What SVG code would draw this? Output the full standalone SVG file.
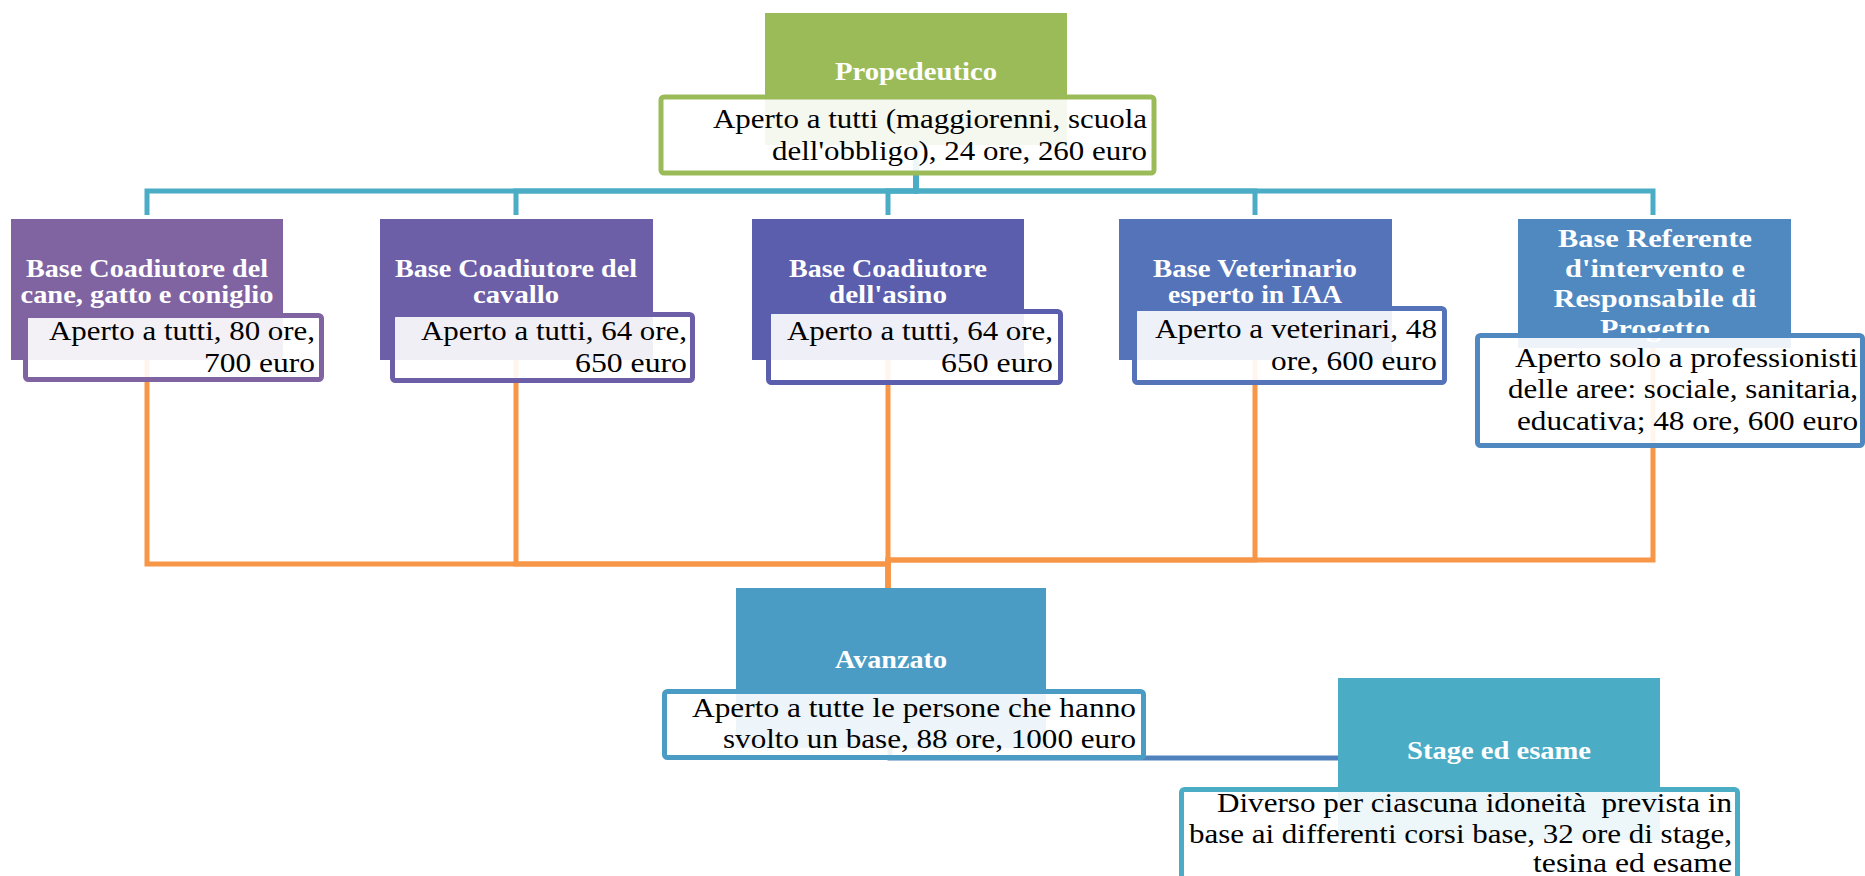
<svg xmlns="http://www.w3.org/2000/svg" width="1865" height="876" viewBox="0 0 1865 876">
<style>
.hd{font-family:"Liberation Serif","DejaVu Serif",serif;font-weight:bold;font-size:25px;fill:#ffffff;text-anchor:middle}
.bd{font-family:"Liberation Serif","DejaVu Serif",serif;font-size:27px;fill:#000000;text-anchor:end}
.box{fill:#ffffff;fill-opacity:0.9;stroke-width:5}
.cb{fill:none;stroke:#4BACC6;stroke-width:5}
.co{fill:none;stroke:#F79646;stroke-width:5}
.cs{fill:none;stroke:#4F81BD;stroke-width:5}
</style>
<rect width="1865" height="876" fill="#ffffff"/>
<g id="connectors">
<path class="cb" d="M916 145 V191 H147 V215"/>
<path class="cb" d="M916 145 V191 H516 V215"/>
<path class="cb" d="M916 145 V191 H888 V215"/>
<path class="cb" d="M916 145 V191 H1255 V215"/>
<path class="cb" d="M916 145 V191 H1653 V215"/>
<path class="co" d="M147 360 V564 H888 V588"/>
<path class="co" d="M516 360 V564 H888 V588"/>
<path class="co" d="M888 360 V588"/>
<path class="co" d="M1255 360 V560 H888 V588"/>
<path class="co" d="M1653 348 V560 H888 V588"/>
<path class="cs" d="M890 748 V758 H1338"/>
</g>
<g id="propedeutico">
<rect x="765" y="13" width="302" height="132" fill="#9BBB59"/>
<text class="hd" x="916" y="80" textLength="162" lengthAdjust="spacingAndGlyphs">Propedeutico</text>
<rect class="box" x="661" y="97" width="493" height="76" rx="3" stroke="#9BBB59"/>
<text class="bd" x="1147" y="128" textLength="434" lengthAdjust="spacingAndGlyphs">Aperto a tutti (maggiorenni, scuola</text>
<text class="bd" x="1147" y="160" textLength="375" lengthAdjust="spacingAndGlyphs">dell'obbligo), 24 ore, 260 euro</text>
</g>
<g id="base-cane">
<rect x="11" y="219" width="272" height="141" fill="#8064A2"/>
<text class="hd" x="147" y="277" textLength="242" lengthAdjust="spacingAndGlyphs">Base Coadiutore del</text>
<text class="hd" x="147" y="303" textLength="253" lengthAdjust="spacingAndGlyphs">cane, gatto e coniglio</text>
<rect class="box" x="25.5" y="315.5" width="296" height="64" rx="3" stroke="#8064A2"/>
<text class="bd" x="315" y="340" textLength="266" lengthAdjust="spacingAndGlyphs">Aperto a tutti, 80 ore,</text>
<text class="bd" x="315" y="372" textLength="111" lengthAdjust="spacingAndGlyphs">700 euro</text>
</g>
<g id="base-cavallo">
<rect x="380" y="219" width="273" height="141" fill="#6D5FA7"/>
<text class="hd" x="516" y="277" textLength="242" lengthAdjust="spacingAndGlyphs">Base Coadiutore del</text>
<text class="hd" x="516" y="303" textLength="86" lengthAdjust="spacingAndGlyphs">cavallo</text>
<rect class="box" x="392.5" y="314.5" width="300" height="66" rx="3" stroke="#6D5FA7"/>
<text class="bd" x="687" y="340" textLength="266" lengthAdjust="spacingAndGlyphs">Aperto a tutti, 64 ore,</text>
<text class="bd" x="687" y="372" textLength="112" lengthAdjust="spacingAndGlyphs">650 euro</text>
</g>
<g id="base-asino">
<rect x="752" y="219" width="272" height="141" fill="#5A5EAD"/>
<text class="hd" x="888" y="277" textLength="198" lengthAdjust="spacingAndGlyphs">Base Coadiutore</text>
<text class="hd" x="888" y="303" textLength="118" lengthAdjust="spacingAndGlyphs">dell'asino</text>
<rect class="box" x="768.5" y="311.5" width="292" height="71" rx="3" stroke="#5A5EAD"/>
<text class="bd" x="1053" y="340" textLength="266" lengthAdjust="spacingAndGlyphs">Aperto a tutti, 64 ore,</text>
<text class="bd" x="1053" y="372" textLength="112" lengthAdjust="spacingAndGlyphs">650 euro</text>
</g>
<g id="base-veterinario">
<rect x="1119" y="219" width="273" height="141" fill="#5473B8"/>
<text class="hd" x="1255" y="277" textLength="204" lengthAdjust="spacingAndGlyphs">Base Veterinario</text>
<text class="hd" x="1255" y="303" textLength="174" lengthAdjust="spacingAndGlyphs">esperto in IAA</text>
<rect class="box" x="1134.5" y="308.5" width="310" height="74" rx="3" stroke="#5473B8"/>
<text class="bd" x="1437" y="338" textLength="282" lengthAdjust="spacingAndGlyphs">Aperto a veterinari, 48</text>
<text class="bd" x="1437" y="370" textLength="166" lengthAdjust="spacingAndGlyphs">ore, 600 euro</text>
</g>
<g id="base-referente">
<rect x="1518" y="219" width="273" height="129" fill="#4F89C0"/>
<text class="hd" x="1655" y="247" textLength="194" lengthAdjust="spacingAndGlyphs">Base Referente</text>
<text class="hd" x="1655" y="277" textLength="180" lengthAdjust="spacingAndGlyphs">d'intervento e</text>
<text class="hd" x="1655" y="307" textLength="203" lengthAdjust="spacingAndGlyphs">Responsabile di</text>
<text class="hd" x="1655" y="337" textLength="110" lengthAdjust="spacingAndGlyphs">Progetto</text>
<rect class="box" x="1477.5" y="335.5" width="385" height="110" rx="3" stroke="#4F89C0"/>
<text class="bd" x="1858" y="367" textLength="343" lengthAdjust="spacingAndGlyphs">Aperto solo a professionisti</text>
<text class="bd" x="1858" y="398" textLength="350" lengthAdjust="spacingAndGlyphs">delle aree: sociale, sanitaria,</text>
<text class="bd" x="1858" y="430" textLength="341" lengthAdjust="spacingAndGlyphs">educativa; 48 ore, 600 euro</text>
</g>
<g id="avanzato">
<rect x="736" y="588" width="310" height="160" fill="#4B9CC5"/>
<text class="hd" x="891" y="668" textLength="112" lengthAdjust="spacingAndGlyphs">Avanzato</text>
<rect class="box" x="664.5" y="691.5" width="479" height="66" rx="3" stroke="#4B9CC5"/>
<text class="bd" x="1136" y="717" textLength="444" lengthAdjust="spacingAndGlyphs">Aperto a tutte le persone che hanno</text>
<text class="bd" x="1136" y="748" textLength="413" lengthAdjust="spacingAndGlyphs">svolto un base, 88 ore, 1000 euro</text>
</g>
<g id="stage">
<rect x="1338" y="678" width="322" height="162" fill="#4BACC6"/>
<text class="hd" x="1499" y="759" textLength="184" lengthAdjust="spacingAndGlyphs">Stage ed esame</text>
<rect class="box" x="1181.5" y="789.5" width="556" height="100" rx="3" stroke="#4BACC6"/>
<text class="bd" x="1732" y="812" textLength="515" lengthAdjust="spacingAndGlyphs" xml:space="preserve">Diverso per ciascuna idoneità  prevista in</text>
<text class="bd" x="1732" y="843" textLength="543" lengthAdjust="spacingAndGlyphs">base ai differenti corsi base, 32 ore di stage,</text>
<text class="bd" x="1732" y="872" textLength="199" lengthAdjust="spacingAndGlyphs">tesina ed esame</text>
</g>
</svg>
